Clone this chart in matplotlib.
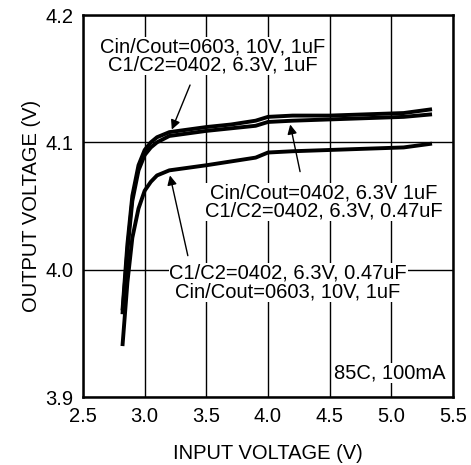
import matplotlib
matplotlib.use("Agg")
import matplotlib.pyplot as plt

plt.rcParams["font.family"] = ["Liberation Sans", "DejaVu Sans"]

# 数据
vin = [2.82, 2.86, 2.90, 2.95, 3.00, 3.05, 3.10, 3.20, 3.35, 3.50, 3.70, 3.90, 4.00, 4.20, 4.50, 4.80, 5.10, 5.33]
vout_0603_1uf = [3.968, 4.020, 4.058, 4.082, 4.094, 4.100, 4.104, 4.108, 4.110, 4.112, 4.114, 4.117, 4.120, 4.121, 4.121, 4.122, 4.123, 4.126]
vout_0402_1uf = [3.965, 4.015, 4.054, 4.078, 4.090, 4.096, 4.100, 4.105, 4.107, 4.109, 4.111, 4.113, 4.116, 4.117, 4.118, 4.119, 4.120, 4.122]
vout_0402_047uf = [3.940, 3.990, 4.025, 4.048, 4.062, 4.069, 4.074, 4.078, 4.080, 4.082, 4.085, 4.088, 4.092, 4.093, 4.094, 4.095, 4.096, 4.099]

x_ticks = [2.5, 3.0, 3.5, 4.0, 4.5, 5.0, 5.5]
y_ticks = [3.9, 4.0, 4.1, 4.2]

FS = 14.5

fig = plt.figure(figsize=(4.71, 4.65), dpi=100)
ax = fig.add_axes([83 / 471, 1 - 397 / 465, 370 / 471, 382 / 465])

for y in (vout_0603_1uf, vout_0402_1uf, vout_0402_047uf):
	ax.plot(vin, y, color="black", lw=2.8, solid_capstyle="butt", zorder=3)

ax.set_xlim(2.5, 5.5)
ax.set_ylim(3.9, 4.2)
ax.set_xticks(x_ticks)
ax.set_xticklabels([f"{t:.1f}" for t in x_ticks])
ax.set_yticks(y_ticks)
ax.set_yticklabels([f"{t:.1f}" for t in y_ticks])
ax.tick_params(length=0, labelsize=FS, pad=7)
ax.grid(True, color="black", lw=1)
for s in ax.spines.values():
	s.set_linewidth(1.8)

ax.set_xlabel("INPUT VOLTAGE (V)", fontsize=FS, labelpad=13)
ax.set_ylabel("OUTPUT VOLTAGE (V)", fontsize=FS, labelpad=3)

box = dict(facecolor="white", edgecolor="none", pad=0.5)
arrow = dict(arrowstyle="-|>", color="black", lw=1, mutation_scale=14, shrinkA=0, shrinkB=0)

ax.text(3.554, 4.168, "Cin/Cout=0603, 10V, 1uF\nC1/C2=0402, 6.3V, 1uF",
	ha="center", va="center", fontsize=FS, linespacing=0.95, bbox=box, zorder=4)
ax.annotate("", xy=(3.22, 4.110), xytext=(3.368, 4.145), arrowprops=arrow, zorder=4)

ax.text(4.455, 4.053, "Cin/Cout=0402, 6.3V 1uF\nC1/C2=0402, 6.3V, 0.47uF",
	ha="center", va="center", fontsize=FS, linespacing=0.95, bbox=box, zorder=4)
ax.annotate("", xy=(4.18, 4.114), xytext=(4.26, 4.077), arrowprops=arrow, zorder=4)

ax.text(4.163, 3.99, "C1/C2=0402, 6.3V, 0.47uF\nCin/Cout=0603, 10V, 1uF",
	ha="center", va="center", fontsize=FS, linespacing=0.95, bbox=box, zorder=4)
ax.annotate("", xy=(3.205, 4.074), xytext=(3.35, 4.011), arrowprops=arrow, zorder=4)

ax.text(5.436, 3.919, "85C, 100mA", ha="right", va="center", fontsize=FS, bbox=box, zorder=4)

fig.savefig("out.png", dpi=100)
